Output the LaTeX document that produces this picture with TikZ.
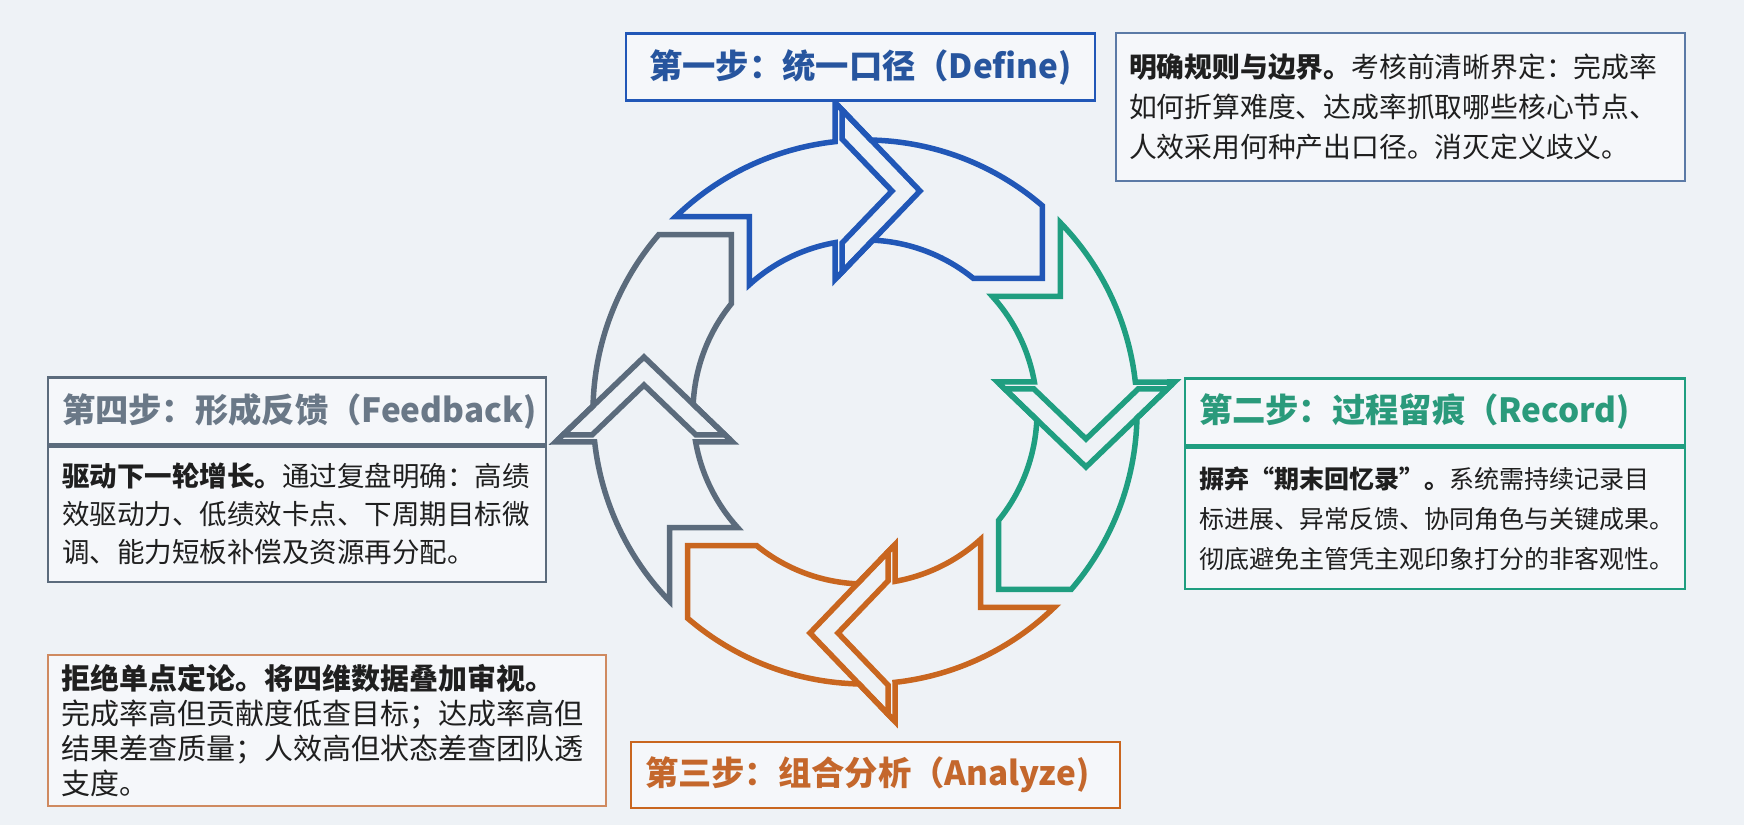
\documentclass[tikz,border=0pt]{standalone}
\usepackage{fontspec}
\setmainfont{Noto Sans CJK SC}
\usepackage{tikz}

\definecolor{bgcol}{HTML}{EEF2F6}
\definecolor{defblue}{HTML}{2157B7}
\definecolor{deftext}{HTML}{27559E}
\definecolor{defline}{HTML}{5B7AA6}
\definecolor{recteal}{HTML}{1F9E80}
\definecolor{rectext}{HTML}{2A9A7B}
\definecolor{anaorange}{HTML}{C9661F}
\definecolor{anatext}{HTML}{C4672C}
\definecolor{analine}{HTML}{CF8A60}
\definecolor{fbgray}{HTML}{5B6B7C}
\definecolor{fbtext}{HTML}{6A7887}

\tikzset{
  ringline/.style={line width=5.5pt, line join=miter},
  titlebox/.style={draw, line width=2.8pt, fill=white!40!bgcol, minimum height=67pt, inner xsep=14pt, inner ysep=0pt, align=left, font=\fontsize{33.3}{40}\selectfont\bfseries},
  descbox/.style={draw, line width=1.8pt, fill=white!40!bgcol, inner xsep=13pt, inner ysep=0pt, align=left, text=black!88},
}

\begin{document}
\begin{tikzpicture}[x=1pt, y=1pt]
\fill[bgcol] (0,0) rectangle (1744,825);
\useasboundingbox (0,0) rectangle (1744,825);

\foreach \ang/\col in {0/defblue, -90/recteal, -180/anaorange, -270/fbgray}{
  \begin{scope}[shift={(865,413)}, rotate=\ang]
    \draw[ringline, \col] (-189.32,195.3) arc[start angle=134.11, end angle=96.33, radius=272] -- (-30,309.5) -- (55,221) -- (-30,132.5) -- (-30,169.36) arc[start angle=100.04, end angle=132.23, radius=172] -- (-115.6,195.3) -- cycle;
    \draw[ringline, \col] (6.05,271.95) arc[start angle=88.73, end angle=49.32, radius=272] -- (177.3,133.6) -- (108.33,133.6) arc[start angle=50.96, end angle=87.41, radius=172] -- (-23,139.8) -- (-23,168.95) -- (27,221) -- (-23,273.05) -- (-23,302.2) -- cycle;
  \end{scope}
}

\node[titlebox, draw=defblue, text=deftext, text width=441pt, align=center] (deftitle) at (860.5,758) {第一步：统一口径（Define)};
\node[descbox, draw=defline, text width=543pt, minimum height=148pt, font=\fontsize{27.8}{40}\selectfont] (defdesc) at (1400.5,718) {\textbf{明确规则与边界。}考核前清晰界定：完成率\\如何折算难度、达成率抓取哪些核心节点、\\人效采用何种产出口径。消灭定义歧义。};

\node[titlebox, draw=recteal, text=rectext, text width=472pt] (rectitle) at (1435,413) {第二步：过程留痕（Record)};
\node[descbox, draw=recteal, anchor=north, inner xsep=14pt, text width=472pt, minimum height=141pt, font=\fontsize{25}{40}\selectfont] (recdesc) at (rectitle.south) {\textbf{摒弃“期末回忆录”。}系统需持续记录目\\标进展、异常反馈、协同角色与关键成果。\\彻底避免主管凭主观印象打分的非客观性。};

\node[titlebox, draw=fbgray, text=fbtext, text width=470pt] (fbtitle) at (297,414) {第四步：形成反馈（Feedback)};
\node[descbox, draw=fbgray, anchor=north, inner xsep=14pt, text width=470pt, minimum height=135pt, font=\fontsize{27.5}{38}\selectfont] (fbdesc) at (fbtitle.south) {\textbf{驱动下一轮增长。}通过复盘明确：高绩\\效驱动力、低绩效卡点、下周期目标微\\调、能力短板补偿及资源再分配。};

\node[descbox, draw=analine, text width=532pt, minimum height=151pt, font=\fontsize{29}{35}\selectfont] (anadesc) at (327,94.5) {\textbf{拒绝单点定论。将四维数据叠加审视。}\\完成率高但贡献度低查目标；达成率高但\\结果差查质量；人效高但状态差查团队透\\支度。};
\node[titlebox, draw=anaorange, text=anatext, text width=461pt, minimum height=66pt] (anatitle) at (875.5,50) {第三步：组合分析（Analyze)};
\end{tikzpicture}
\end{document}
